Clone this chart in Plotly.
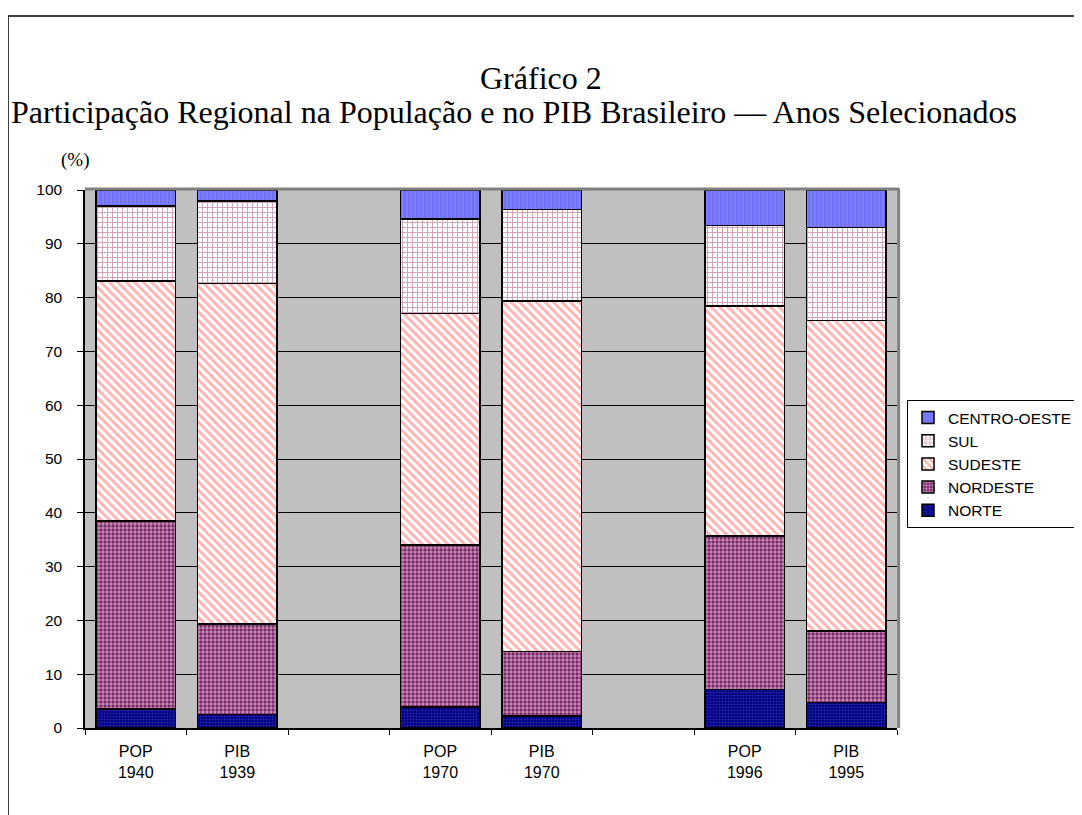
import plotly.graph_objects as go

# categorias (as vazias separam os grupos de anos)
categorias = ["POP<br>1940", "PIB<br>1939", " ", "POP<br>1970", "PIB<br>1970", "  ", "POP<br>1996", "PIB<br>1995"]

# participação (%) por região
norte = [3.5, 2.5, None, 3.9, 2.2, None, 7.2, 4.7]
nordeste = [35.0, 16.8, None, 30.1, 12.0, None, 28.5, 13.3]
sudeste = [44.6, 63.3, None, 43.0, 65.2, None, 42.7, 57.7]
sul = [13.9, 15.4, None, 17.6, 17.0, None, 15.0, 17.3]
centro_oeste = [3.0, 2.0, None, 5.4, 3.6, None, 6.6, 7.0]

y_ticks = list(range(0, 101, 10))

series = [
    ("NORTE", norte, dict(shape=".", fgcolor="#5050D0", bgcolor="#000080", size=3, solidity=0.35)),
    ("NORDESTE", nordeste, dict(shape=".", fgcolor="#FFFFFF", bgcolor="#7B1B63", size=4, solidity=0.55)),
    ("SUDESTE", sudeste, dict(shape="\\", fgcolor="#FF6A6A", bgcolor="#FFFFFF", size=6, solidity=0.5)),
    ("SUL", sul, dict(shape="+", fgcolor="#A04474", bgcolor="#FFFFFF", size=5, solidity=0.35)),
    ("CENTRO-OESTE", centro_oeste, dict(shape="|", fgcolor="#B8B8FF", bgcolor="#7070F8", size=4, solidity=0.2)),
]

fig = go.Figure()
for nome, valores, padrao in series:
    fig.add_trace(go.Bar(
        x=categorias,
        y=valores,
        name=nome,
        marker=dict(color=padrao["bgcolor"], pattern=padrao,
                    line=dict(color="black", width=1.5)),
    ))

# a página desloca tudo 8px; a área do gráfico fica em x 85..897, y 190..728 na tela
fig.update_layout(
    barmode="stack",
    bargap=0.22,
    width=1082,
    height=815,
    margin=dict(l=77, r=193, t=182, b=95),
    paper_bgcolor="white",
    plot_bgcolor="#C0C0C0",
    font=dict(family="Liberation Sans, Arial", size=15, color="black"),
    legend=dict(
        x=(907 - 85) / 812, y=(728 - 400) / 538, xanchor="left", yanchor="top",
        traceorder="reversed",
        bordercolor="black", borderwidth=1, bgcolor="white",
        font=dict(size=15.5),
        itemwidth=30,
    ),
    showlegend=True,
)

fig.update_xaxes(
    type="category",
    tickson="boundaries",
    ticks="outside", ticklen=5, tickcolor="black",
    showline=True, linecolor="black", linewidth=1.5,
    showgrid=False,
    tickfont=dict(size=16),
    ticklabelstandoff=8,
)
fig.update_yaxes(
    range=[0, 100],
    tickvals=y_ticks,
    ticks="outside", ticklen=6, tickcolor="black",
    showline=True, linecolor="black", linewidth=1.5,
    showgrid=True, gridcolor="black", gridwidth=1,
    zeroline=False,
    tickfont=dict(size=15.5),
    ticklabelstandoff=12,
)

# moldura externa e bordas cinza da área do gráfico
fig.add_shape(type="rect", xref="paper", yref="paper",
              x0=(8 - 85) / 812, y0=-0.25, x1=1.3, y1=(728 - 16) / 538,
              line=dict(color="black", width=1.5), layer="below")
fig.add_shape(type="line", xref="paper", yref="paper", x0=0, x1=1.003, y0=1.002, y1=1.002,
              line=dict(color="#808080", width=3))
fig.add_shape(type="line", xref="paper", yref="paper", x0=1.002, x1=1.002, y0=0, y1=1.002,
              line=dict(color="#808080", width=3))

serif = "Liberation Serif, Times New Roman"
fig.add_annotation(text="Gráfico 2", xref="paper", yref="paper",
                   x=(541 - 85) / 812, y=(728 - 78) / 538, xanchor="center", yanchor="middle",
                   showarrow=False, font=dict(family=serif, size=32))
fig.add_annotation(text="Participação Regional na População e no PIB Brasileiro — Anos Selecionados",
                   xref="paper", yref="paper",
                   x=(514 - 85) / 812, y=(728 - 112) / 538, xanchor="center", yanchor="middle",
                   showarrow=False, font=dict(family=serif, size=32))
fig.add_annotation(text="(%)", xref="paper", yref="paper",
                   x=(75 - 85) / 812, y=(728 - 160) / 538, xanchor="center", yanchor="middle",
                   showarrow=False, font=dict(family=serif, size=19))

fig.write_html("out.html")
